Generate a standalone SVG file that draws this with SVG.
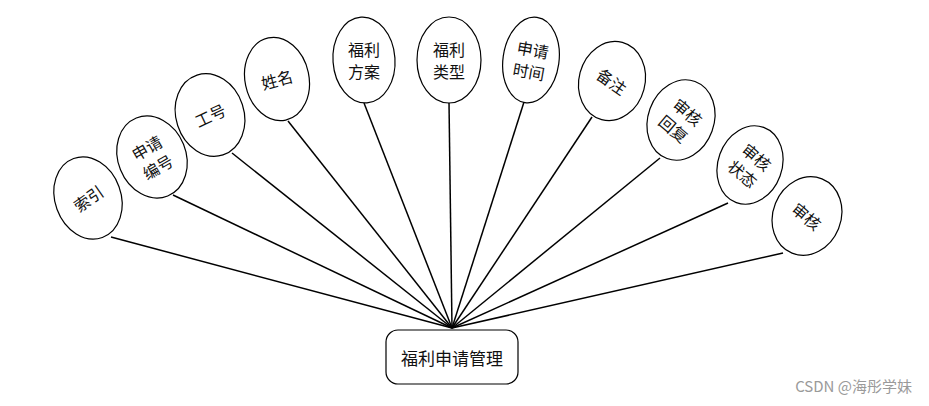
<svg xmlns="http://www.w3.org/2000/svg" width="929" height="406" viewBox="0 0 929 406">
<style>
.e{fill:#fff;stroke:#000;stroke-width:1.2}
.t{font-family:"Noto Sans CJK SC","Noto Sans CJK JP",sans-serif;font-size:16px;fill:#111;text-anchor:middle;dominant-baseline:central}
.c line{stroke:#000;stroke-width:1.5}
</style>
<rect width="929" height="406" fill="#fff"/>
<g class="c" id="connectors">
<line x1="111" y1="237" x2="452" y2="328"/>
<line x1="173" y1="195" x2="452" y2="328"/>
<line x1="232" y1="153" x2="452" y2="328"/>
<line x1="288" y1="121" x2="452" y2="328"/>
<line x1="364" y1="103" x2="452" y2="328"/>
<line x1="449" y1="102" x2="452" y2="328"/>
<line x1="524" y1="102" x2="452" y2="328"/>
<line x1="592" y1="117" x2="452" y2="328"/>
<line x1="660" y1="158" x2="452" y2="328"/>
<line x1="728" y1="203" x2="452" y2="328"/>
<line x1="783" y1="253" x2="452" y2="328"/>
</g>
<g id="n1" transform="translate(88,198)"><ellipse class="e" rx="33" ry="42" transform="rotate(-20)"/><text class="t" transform="rotate(-35)">索引</text></g>
<g id="n2" transform="translate(152,157)"><ellipse class="e" rx="34" ry="42" transform="rotate(-22)"/><text class="t" transform="rotate(-30)"><tspan x="0" y="-11">申请</tspan><tspan x="0" y="11">编号</tspan></text></g>
<g id="n3" transform="translate(210,115)"><ellipse class="e" rx="34" ry="42" transform="rotate(-18)"/><text class="t" transform="rotate(-25)">工号</text></g>
<g id="n4" transform="translate(277,79)"><ellipse class="e" rx="32" ry="42" transform="rotate(-12)"/><text class="t" transform="rotate(-15)">姓名</text></g>
<g id="n5" transform="translate(364,60)"><ellipse class="e" rx="31" ry="43" transform="rotate(-4)"/><text class="t"><tspan x="0" y="-11">福利</tspan><tspan x="0" y="11">方案</tspan></text></g>
<g id="n6" transform="translate(449,60)"><ellipse class="e" rx="32" ry="43"/><text class="t"><tspan x="0" y="-11">福利</tspan><tspan x="0" y="11">类型</tspan></text></g>
<g id="n7" transform="translate(531,60)"><ellipse class="e" rx="28" ry="43" transform="rotate(8)"/><text class="t" transform="rotate(10)"><tspan x="0" y="-11">申请</tspan><tspan x="0" y="11">时间</tspan></text></g>
<g id="n8" transform="translate(612,81)"><ellipse class="e" rx="33" ry="40" transform="rotate(15)"/><text class="t" transform="rotate(35)">备注</text></g>
<g id="n9" transform="translate(681,120)"><ellipse class="e" rx="33" ry="41" transform="rotate(20)"/><text class="t" transform="rotate(40)"><tspan x="0" y="-11">审核</tspan><tspan x="0" y="11">回复</tspan></text></g>
<g id="n10" transform="translate(750,165)"><ellipse class="e" rx="32" ry="40" transform="rotate(20)"/><text class="t" transform="rotate(40)"><tspan x="0" y="-11">审核</tspan><tspan x="0" y="11">状态</tspan></text></g>
<g id="n11" transform="translate(807,216)"><ellipse class="e" rx="34" ry="40" transform="rotate(22)"/><text class="t" transform="rotate(40)">审核</text></g>
<g id="hub"><rect x="386" y="330" width="132" height="54" rx="12" class="e"/><text class="t" x="452" y="357" style="font-size:17px">福利申请管理</text></g>
<text x="912" y="392" style="font-family:'Noto Sans CJK SC',sans-serif;font-size:15px;fill:#9a9a9a;text-anchor:end">CSDN @海彤学妹</text>
</svg>
